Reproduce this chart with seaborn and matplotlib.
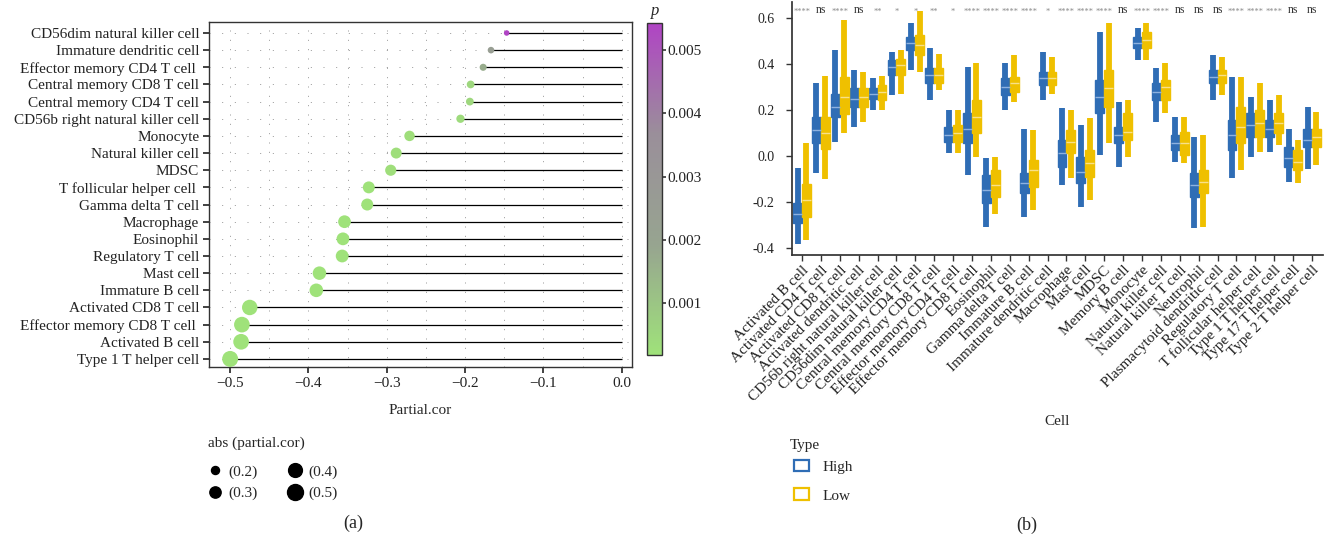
import numpy as np
import pandas as pd
import matplotlib
matplotlib.use("Agg")
import matplotlib.pyplot as plt
import seaborn as sns
from matplotlib.colors import LinearSegmentedColormap, Normalize
from matplotlib.cm import ScalarMappable
from matplotlib.lines import Line2D
from matplotlib.patches import Patch
from matplotlib.ticker import FormatStrFormatter, MultipleLocator

# ---------------- panel (a): partial correlation lollipop ----------------
cells_a = [
    "CD56dim natural killer cell", "Immature dendritic cell",
    "Effector memory CD4 T cell ", "Central memory CD8 T cell",
    "Central memory CD4 T cell", "CD56b right natural killer cell",
    "Monocyte", "Natural killer cell", "MDSC", "T follicular helper cell ",
    "Gamma delta T cell", "Macrophage", "Eosinophil", "Regulatory T cell",
    "Mast cell", "Immature B cell", "Activated CD8 T cell",
    "Effector memory CD8 T cell ", "Activated B cell", "Type 1 T helper cell",
]
partial_cor = [-0.147, -0.167, -0.177, -0.193, -0.194, -0.206, -0.271, -0.288,
               -0.295, -0.323, -0.325, -0.354, -0.356, -0.357, -0.386, -0.390,
               -0.475, -0.485, -0.486, -0.500]
p_values = [0.00543, 0.0024, 0.0017, 0.0005, 0.0005, 0.0004, 0.0003, 0.0003,
            0.0003, 0.0002, 0.0002, 0.0002, 0.0002, 0.0002, 0.0002, 0.0002,
            0.00019, 0.00019, 0.00019, 0.00018]
size_levels = [0.2, 0.3, 0.4, 0.5]

# ---------------- panel (b): immune cell scores by risk group ----------------
cells_b = [
    "Activated B cell", "Activated CD4 T cell", "Activated CD8 T cell",
    "Activated dendritic cell", "CD56b right natural killer cell",
    "CD56dim natural killer cell", "Central memory CD4 T cell",
    "Central memory CD8 T cell", "Effector memory CD4 T cell",
    "Effector memory CD8 T cell", "Eosinophil", "Gamma delta T cell",
    "Immature B cell", "Immature dendritic cell", "Macrophage", "Mast cell",
    "MDSC", "Memory B cell", "Monocyte", "Natural killer cell",
    "Natural killer T cell", "Neutrophil", "Plasmacytoid dendritic cell",
    "Regulatory T cell", "T follicular helper cell", "Type 1 T helper cell",
    "Type 17 T helper cell", "Type 2 T helper cell",
]
sig_labels = ["****", "ns", "****", "ns", "**", "*", "*", "**", "*", "****",
              "****", "****", "****", "*", "****", "****", "****", "ns",
              "****", "****", "ns", "ns", "ns", "****", "****", "****", "ns", "ns"]
types = ["High", "Low"]

high_min = [-0.38, -0.075, 0.06, 0.128, 0.20, 0.265, 0.374, 0.243, 0.012, -0.083,
            -0.307, 0.20, -0.264, 0.243, -0.126, -0.22, 0.004, -0.046, 0.417, 0.149,
            -0.025, -0.314, 0.243, -0.097, -0.003, 0.019, -0.112, -0.054]
high_q1 = [-0.29, 0.055, 0.17, 0.214, 0.25, 0.352, 0.46, 0.316, 0.062, 0.055,
           -0.206, 0.265, -0.162, 0.309, -0.046, -0.119, 0.186, 0.055, 0.468, 0.243,
           0.026, -0.177, 0.316, 0.026, 0.084, 0.084, -0.046, 0.04]
high_med = [-0.25, 0.113, 0.215, 0.25, 0.272, 0.388, 0.49, 0.352, 0.091, 0.12,
            -0.148, 0.30, -0.119, 0.338, 0.012, -0.068, 0.258, 0.091, 0.493, 0.28,
            0.058, -0.126, 0.345, 0.091, 0.135, 0.12, -0.01, 0.07]
high_q3 = [-0.205, 0.17, 0.27, 0.294, 0.294, 0.417, 0.519, 0.381, 0.128, 0.186,
           -0.083, 0.338, -0.075, 0.367, 0.07, -0.003, 0.33, 0.128, 0.519, 0.316,
           0.091, -0.075, 0.374, 0.157, 0.186, 0.157, 0.04, 0.12]
high_max = [-0.05, 0.32, 0.46, 0.374, 0.338, 0.454, 0.577, 0.468, 0.20, 0.388,
            -0.01, 0.403, 0.12, 0.454, 0.207, 0.135, 0.54, 0.236, 0.555, 0.381,
            0.171, 0.084, 0.44, 0.345, 0.258, 0.243, 0.12, 0.214]

low_min = [-0.365, -0.10, 0.10, 0.15, 0.20, 0.272, 0.367, 0.287, 0.012, -0.003,
           -0.25, 0.236, -0.235, 0.272, -0.097, -0.19, 0.055, -0.003, 0.417, 0.186,
           -0.032, -0.307, 0.265, -0.061, 0.019, 0.048, -0.119, -0.039]
low_q1 = [-0.265, 0.033, 0.185, 0.214, 0.243, 0.352, 0.44, 0.316, 0.062, 0.099,
          -0.177, 0.28, -0.133, 0.309, 0.012, -0.09, 0.214, 0.07, 0.468, 0.243,
          0.004, -0.162, 0.316, 0.055, 0.084, 0.099, -0.061, 0.04]
low_med = [-0.19, 0.10, 0.258, 0.258, 0.28, 0.396, 0.483, 0.352, 0.099, 0.171,
           -0.126, 0.316, -0.06, 0.338, 0.062, -0.032, 0.294, 0.106, 0.504, 0.30,
           0.055, -0.112, 0.352, 0.128, 0.142, 0.142, -0.025, 0.084]
low_q3 = [-0.12, 0.17, 0.345, 0.294, 0.31, 0.424, 0.526, 0.381, 0.135, 0.243,
          -0.06, 0.345, -0.017, 0.367, 0.113, 0.026, 0.374, 0.186, 0.54, 0.33,
          0.106, -0.06, 0.374, 0.214, 0.20, 0.186, 0.026, 0.12]
low_max = [0.055, 0.35, 0.59, 0.367, 0.35, 0.46, 0.63, 0.446, 0.20, 0.403,
           -0.003, 0.44, 0.113, 0.43, 0.20, 0.164, 0.577, 0.243, 0.577, 0.403,
           0.171, 0.091, 0.43, 0.345, 0.316, 0.265, 0.07, 0.193]

# ---------------- styling ----------------
sns.set_theme(style="ticks")
plt.rcParams["font.family"] = ["Liberation Serif", "DejaVu Serif"]
plt.rcParams["axes.edgecolor"] = "#333333"
plt.rcParams["xtick.color"] = "#333333"
plt.rcParams["ytick.color"] = "#333333"
plt.rcParams["xtick.labelcolor"] = "#222222"
plt.rcParams["ytick.labelcolor"] = "#222222"

BLUE = "#2f6db5"
YELLOW = "#efc000"
BLUE_LIGHT = "#8db1df"
YELLOW_LIGHT = "#f8e089"

p_cmap = LinearSegmentedColormap.from_list(
    "p_grad", ["#9fe27a", "#97a490", "#9a8f9a", "#b044c4"])
p_norm = Normalize(vmin=min(p_values), vmax=max(p_values))

s_lo, s_hi = 0.147, 0.5
area_lo, area_hi = 16.0, 132.0


def point_area(v):
    return area_lo + (v - s_lo) / (s_hi - s_lo) * (area_hi - area_lo)


W, H = 1332, 544
fig = plt.figure(figsize=(W / 100, H / 100), dpi=100)


def box(l, t, r, b):
    return [l / W, 1 - b / H, (r - l) / W, (b - t) / H]


# ---------------- panel (a) ----------------
axa = fig.add_axes(box(209, 22, 632, 367))
df_a = pd.DataFrame({"Cell": cells_a, "cor": partial_cor, "p": p_values,
                     "abs": np.abs(partial_cor)})
ypos = np.arange(len(cells_a))
axa.hlines(ypos, df_a["cor"], 0, color="black", lw=0.9, zorder=2)
sns.scatterplot(data=df_a, x="cor", y="Cell", hue="p", palette=p_cmap,
                hue_norm=p_norm, size="abs", sizes=(area_lo, area_hi),
                size_norm=(s_lo, s_hi), linewidth=0, legend=False,
                zorder=3, ax=axa)
axa.set_ylim(len(cells_a) - 0.53, -0.64)
axa.set_xlim(-0.527, 0.013)
axa.xaxis.set_major_locator(MultipleLocator(0.1))
axa.xaxis.set_minor_locator(MultipleLocator(0.05))
axa.grid(axis="y", which="major", color="#888888", lw=0.6,
         linestyle=(0, (1.2, 14)))
axa.grid(axis="x", which="both", color="#888888", lw=0.6,
         linestyle=(0, (1.2, 10)))
axa.tick_params(axis="x", which="minor", length=0)
axa.tick_params(axis="both", which="major", length=4, width=1.3,
                labelsize=11, pad=3)
axa.set_ylabel("")
axa.set_xlabel("Partial.cor", fontsize=11)
axa.xaxis.set_label_coords(0.5, -0.107)
for sp in axa.spines.values():
    sp.set_linewidth(1.0)

# colour bar for p
cax = fig.add_axes(box(647, 23, 662, 355))
cb = fig.colorbar(ScalarMappable(norm=p_norm, cmap=p_cmap), cax=cax)
cb.set_ticks([0.001, 0.002, 0.003, 0.004, 0.005])
cb.ax.yaxis.set_major_formatter(FormatStrFormatter("%.3f"))
cb.ax.tick_params(length=3, width=1.2, labelsize=11, pad=1)
cb.outline.set_linewidth(1.0)
cb.outline.set_edgecolor("#333333")
fig.text(655 / W, 1 - 11 / H, "p", style="italic", fontsize=12,
         ha="center", va="center")

# size legend
size_handles = [Line2D([], [], marker="o", ls="", color="black",
                       markersize=np.sqrt(point_area(v))) for v in size_levels]
size_labels = [f"({v:.1f})" for v in size_levels]
fig.text(208 / W, 1 - 443 / H, "abs (partial.cor)", fontsize=11,
         ha="left", va="center")
fig.legend(size_handles, size_labels, ncol=2, loc="upper left",
           bbox_to_anchor=(192 / W, 1 - 451 / H), frameon=False,
           fontsize=11, handletextpad=0.3, columnspacing=1.8,
           labelspacing=0.5, handlelength=1.2)

fig.text(353 / W, 1 - 523 / H, "(a)", fontsize=13, ha="center", va="center")

# ---------------- panel (b) ----------------
axb = fig.add_axes(box(792, 2, 1323, 255))
stats = {"High": [high_min, high_q1, high_med, high_q3, high_max],
         "Low": [low_min, low_q1, low_med, low_q3, low_max]}
rows = []
for t in types:
    for series in stats[t]:
        for cell, v in zip(cells_b, series):
            rows.append((cell, t, v))
df_b = pd.DataFrame(rows, columns=["Cell", "Type", "value"])

sns.boxplot(data=df_b, x="Cell", y="value", hue="Type", order=cells_b,
            hue_order=types, palette=[BLUE, YELLOW], width=0.94, gap=0.0,
            whis=(0, 100), saturation=1, linewidth=1.0, showcaps=False,
            showfliers=False, legend=False, ax=axb)

shade = {0: (BLUE, BLUE_LIGHT), 1: (YELLOW, YELLOW_LIGHT)}
for i, cont in enumerate(axb.containers[:2]):
    col, light = shade[i]
    for b in cont.boxes:
        b.set_facecolor(col)
        b.set_edgecolor(col)
    for w in cont.whiskers:
        w.set_color(col)
        w.set_linewidth(4.2)
        w.set_solid_capstyle("butt")
    for m in cont.medians:
        m.set_color(light)
        m.set_linewidth(1.0)

for i, lab in enumerate(sig_labels):
    if lab == "ns":
        axb.text(i, 0.637, lab, fontsize=8.5, color="#333333",
                 ha="center", va="center")
    else:
        axb.text(i, 0.628, lab, fontsize=6, color="#888888",
                 ha="center", va="center")

axb.set_ylim(-0.43, 0.67)
axb.set_xlim(-0.53, len(cells_b) - 0.42)
axb.yaxis.set_major_locator(MultipleLocator(0.2))
axb.yaxis.set_major_formatter(FormatStrFormatter("%.1f"))
sns.despine(ax=axb)
axb.tick_params(axis="y", length=4.5, width=1.0, labelsize=10, pad=8)
axb.tick_params(axis="x", length=4, width=1.0, labelsize=11, pad=2)
for lbl in axb.get_xticklabels():
    lbl.set_rotation(45)
    lbl.set_ha("right")
    lbl.set_rotation_mode("anchor")
axb.set_ylabel("")
axb.set_xlabel("Cell", fontsize=11)
axb.xaxis.set_label_coords(0.5, -0.632)

type_handles = [Patch(facecolor="white", edgecolor=BLUE, lw=1.6),
                Patch(facecolor="white", edgecolor=YELLOW, lw=1.6)]
fig.text(790 / W, 1 - 445 / H, "Type", fontsize=11, ha="left", va="center")
fig.legend(type_handles, types, loc="upper left",
           bbox_to_anchor=(780 / W, 1 - 446 / H), frameon=False,
           fontsize=11, handlelength=1.0, handleheight=0.8,
           handletextpad=0.9, labelspacing=0.95)

fig.text(1027 / W, 1 - 525 / H, "(b)", fontsize=13, ha="center", va="center")

fig.savefig("out.png", dpi=100)
